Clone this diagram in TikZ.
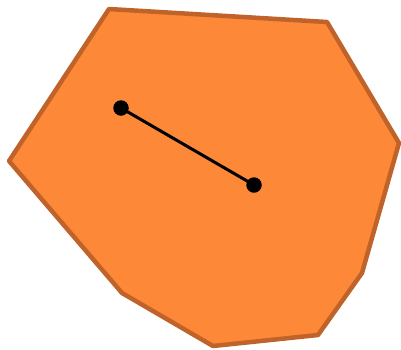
\documentclass[tikz,border=0pt]{standalone}
\definecolor{fillor}{HTML}{FD8837}
\definecolor{edgeor}{HTML}{C0632A}
\tikzset{dot/.style={circle,fill=black,inner sep=0pt,minimum size=15.5pt}}
\begin{document}
\begin{tikzpicture}[x=1pt,y=-1pt]
\useasboundingbox (0,0) rectangle (401,349);
\draw[fill=fillor,draw=edgeor,line width=4.5pt,line join=round]
 (109,9) -- (327,22) -- (399,143) -- (362,273) -- (318,335) -- (213,346) -- (122,293) -- (9,161) -- cycle;
\node[dot] (a) at (121,108) {};
\node[dot] (b) at (254,185) {};
\draw[line width=3pt] (a.center) -- (b.center);
\end{tikzpicture}
\end{document}
